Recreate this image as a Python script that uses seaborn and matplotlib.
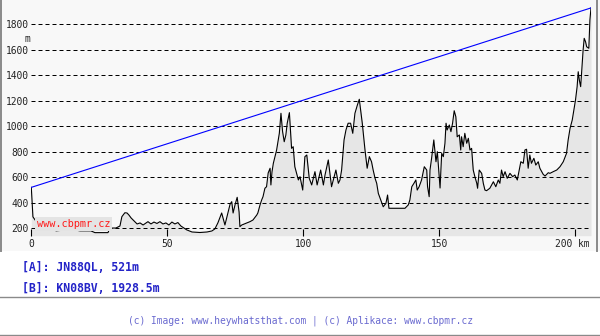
import matplotlib
matplotlib.use("Agg")
import matplotlib.pyplot as plt
import seaborn as sns
import pandas as pd
from matplotlib.patches import Rectangle
from matplotlib.lines import Line2D
from matplotlib.transforms import ScaledTranslation

# ---- data ----
dist_km = [0.0, 0.6, 1.4, 2.5, 3.9, 6.5, 7.6, 9.1, 12.4, 16.1, 17.9, 21.9, 23.4, 28.2, 28.9, 31.1,
           32.6, 33.3, 34.4, 35.2, 35.9, 36.7, 37.8, 38.9, 40.0,
           41.1, 42.2, 42.9, 44.0, 45.1, 46.2, 47.3, 48.4, 49.5, 50.6, 51.7, 52.8, 53.9, 55.0, 56.1,
           57.2, 59.1, 62.0, 64.6, 66.4, 67.5, 68.6, 70.0, 70.7, 71.2, 72.3, 73.1, 73.7, 74.2, 74.9,
           75.7, 76.4, 76.7,
           77.4, 79.2, 80.4, 81.5, 82.9, 83.3, 84.1, 84.7, 85.2, 85.9, 86.5, 87.1, 87.8, 88.1, 88.5,
           89.0, 90.2, 91.2, 91.8, 92.4, 93.0, 93.6, 94.1, 94.9, 95.7, 96.3, 96.9, 98.2, 98.8, 99.8,
           100.6, 101.3, 102.2, 103.1, 104.3, 105.1, 106.4, 107.4, 108.0, 109.2, 110.4, 112.0, 112.9,
           113.5, 114.1, 115.0, 115.7, 116.5, 117.4, 118.2, 119.0, 119.9, 120.6, 121.1, 121.7, 122.7,
           123.5, 124.3, 125.1, 125.7, 126.4, 127.0, 127.6, 128.5, 129.4, 130.4, 131.0, 131.5, 134.4,
           137.4, 138.6, 139.2, 139.9, 140.7, 141.4, 141.9, 142.6, 143.5, 144.5, 145.4, 145.7, 146.3,
           146.6, 147.2, 148.0, 148.8, 149.3, 150.3,
           150.9, 151.5, 152.1, 152.5, 152.9, 153.7, 154.3, 154.9, 155.5, 156.1, 156.6, 157.4, 157.9,
           158.2, 158.8, 159.4, 160.1, 160.7, 161.3, 161.9, 162.5, 163.1, 163.8, 164.1, 164.7, 165.6,
           166.2, 166.8, 167.4, 168.6, 169.9, 170.8, 171.7, 172.3, 172.9, 173.5, 174.2, 175.0, 176.0,
           177.0, 177.8, 178.7, 179.4, 180.0, 180.9, 181.5, 182.1, 182.7, 183.3, 183.9, 184.8, 185.5,
           186.4, 187.0,
           188.2, 188.9, 190.1, 190.7, 191.9, 193.2, 194.4, 195.6, 196.8, 197.4, 198.1, 198.9, 199.5,
           200.1, 200.7, 201.1, 201.5, 202.0, 202.4, 202.9, 203.3, 203.8, 204.2, 205.0, 205.4, 205.8]
elev_m = [521, 290, 265, 234, 202, 187, 202, 180, 187, 187, 180, 180, 166, 166, 202, 202,
          218, 291, 322, 320, 304, 281, 257, 234, 242,
          226, 242, 252, 234, 249, 238, 252, 234, 242, 226, 249, 234, 245, 218, 202,
          187, 171, 167, 171, 179, 195, 242, 320, 265, 226, 320, 390, 409, 320, 383,
          443, 328, 213,
          226, 242, 252, 265, 304, 320, 383, 422, 448, 514, 526, 634, 671, 540, 642,
          710, 814, 945, 1102, 958, 879, 932, 1024, 1107, 827, 840, 683, 579, 605, 500,
          762, 775, 592, 540, 644, 540, 657, 540, 618, 736, 526, 657, 553,
          579, 657, 893, 971, 1024, 1024, 945, 1102, 1167, 1212, 1128, 1024, 814,
          671, 762, 722, 657, 592, 553, 474, 422, 369, 396, 461, 357, 357,
          357, 383, 422, 526, 553, 579, 500, 526, 579, 683, 657, 526, 448,
          657, 751, 893, 722, 801, 516,
          788, 762, 867, 1024, 971, 1010, 958, 1024, 1122, 1075, 918, 932, 814,
          918, 840, 945, 867, 906, 814, 827, 657, 605, 553, 514, 657, 631,
          553, 500, 495, 514, 565, 526, 579, 553, 657, 605, 644, 592, 631,
          605, 618, 579, 657, 722, 710, 814, 820, 671, 775, 710, 749, 696,
          722, 671,
          624, 610, 636, 631, 644, 657, 683, 722, 788, 893, 984, 1049, 1128,
          1206, 1311, 1428, 1363, 1311, 1442, 1598, 1690, 1663, 1624, 1612, 1834, 1928.5]

y_ticks = [200, 400, 600, 800, 1000, 1200, 1400, 1600, 1800]
x_ticks = [0, 50, 100, 150, 200]
y_unit = "m"
x_unit = "km"
point_a = "[A]: JN88QL, 521m"
point_b = "[B]: KN08BV, 1928.5m"
footer = "(c) Image: www.heywhatsthat.com | (c) Aplikace: www.cbpmr.cz"
watermark = "www.cbpmr.cz"

df = pd.DataFrame({"km": dist_km, "m": elev_m})
los = pd.DataFrame({"km": [dist_km[0], dist_km[-1]], "m": [elev_m[0], elev_m[-1]]})

# ---- figure ----
W, H = 600, 336
fig = plt.figure(figsize=(6, 3.36), dpi=100)
fig.patch.set_facecolor("white")
MONO = "DejaVu Sans Mono"

def fx(px):
    return px / W

def fy(py):
    return 1 - py / H

# chart region background
fig.patches.append(Rectangle((0, fy(251)), 1, 251 / H, transform=fig.transFigure,
                             facecolor="#f8f8f8", edgecolor="none", zorder=-10))
# borders
fig.add_artist(Line2D([fx(0.7), fx(0.7)], [fy(251), 1], transform=fig.transFigure,
                      color="#8a8a8a", lw=1.4))
fig.add_artist(Line2D([fx(597), fx(597)], [fy(251), 1], transform=fig.transFigure,
                      color="#8a8a8a", lw=1.4))

left, right, top, bottom = 31.3, 591.0, 5.0, 235.7
ax = fig.add_axes([fx(left), fy(bottom), (right - left) / W, (bottom - top) / H])
ax.set_facecolor("none")

ymin = 200 - (bottom - 228.3) * 7.843
ymax = 200 + (228.3 - top) * 7.843
ax.set_xlim(0, dist_km[-1])
ax.set_ylim(ymin, ymax)

ax.fill_between(df["km"], ymin, df["m"], color="#e6e6e6", lw=0, zorder=1)
ax.hlines(y_ticks, 0, dist_km[-1], colors="black", linestyles=(0, (4, 3)), lw=0.72, zorder=1.5)
sns.lineplot(data=df, x="km", y="m", ax=ax, color="black", lw=0.8, zorder=3, sort=False)
sns.lineplot(data=los, x="km", y="m", ax=ax, color="#0000ff", lw=0.8, zorder=3)

for s in ax.spines.values():
    s.set_visible(False)
ax.set_xlabel("")
ax.set_ylabel("")
ax.set_yticks(y_ticks)
ax.set_yticklabels([str(v) for v in y_ticks], fontfamily=MONO, fontsize=6.9, color="#222222")
ax.set_xticks(x_ticks)
xlabels = [str(v) for v in x_ticks]
xlabels[-1] = f"{x_ticks[-1]} {x_unit}"
ax.set_xticklabels(xlabels, fontfamily=MONO, fontsize=6.9, color="#222222")
ax.tick_params(axis="y", length=0, pad=2)
ax.tick_params(axis="x", direction="in", length=5, width=0.8, color="black", pad=2.5)
last = ax.get_xticklabels()[-1]
last.set_horizontalalignment("right")
last.set_transform(last.get_transform() + ScaledTranslation(0.145, 0, fig.dpi_scale_trans))

fig.text(fx(27), fy(39), y_unit, ha="center", va="center", fontfamily=MONO, fontsize=6.9,
         color="#222222")

fig.text(fx(37), fy(224), watermark, ha="left", va="center", fontfamily=MONO, fontsize=7.4,
         color="#ff1a1a", zorder=10,
         bbox=dict(boxstyle="square,pad=0.15", facecolor="#e4e4e4", edgecolor="none"))

fig.text(fx(22), fy(267.5), point_a, ha="left", va="center", fontfamily=MONO, fontsize=8.3,
         fontweight="bold", color="#2424c8")
fig.text(fx(22), fy(288), point_b, ha="left", va="center", fontfamily=MONO, fontsize=8.3,
         fontweight="bold", color="#2424c8")

fig.add_artist(Line2D([0, 1], [fy(296.7), fy(296.7)], transform=fig.transFigure,
                      color="#8a8a8a", lw=1.0))
fig.add_artist(Line2D([0, 1], [fy(334.5), fy(334.5)], transform=fig.transFigure,
                      color="#8a8a8a", lw=1.0))
fig.text(fx(301), fy(321), footer, ha="center", va="center", fontfamily=MONO, fontsize=6.9,
         color="#6a6ad0")

fig.savefig("out.png", dpi=100, facecolor=fig.get_facecolor())
